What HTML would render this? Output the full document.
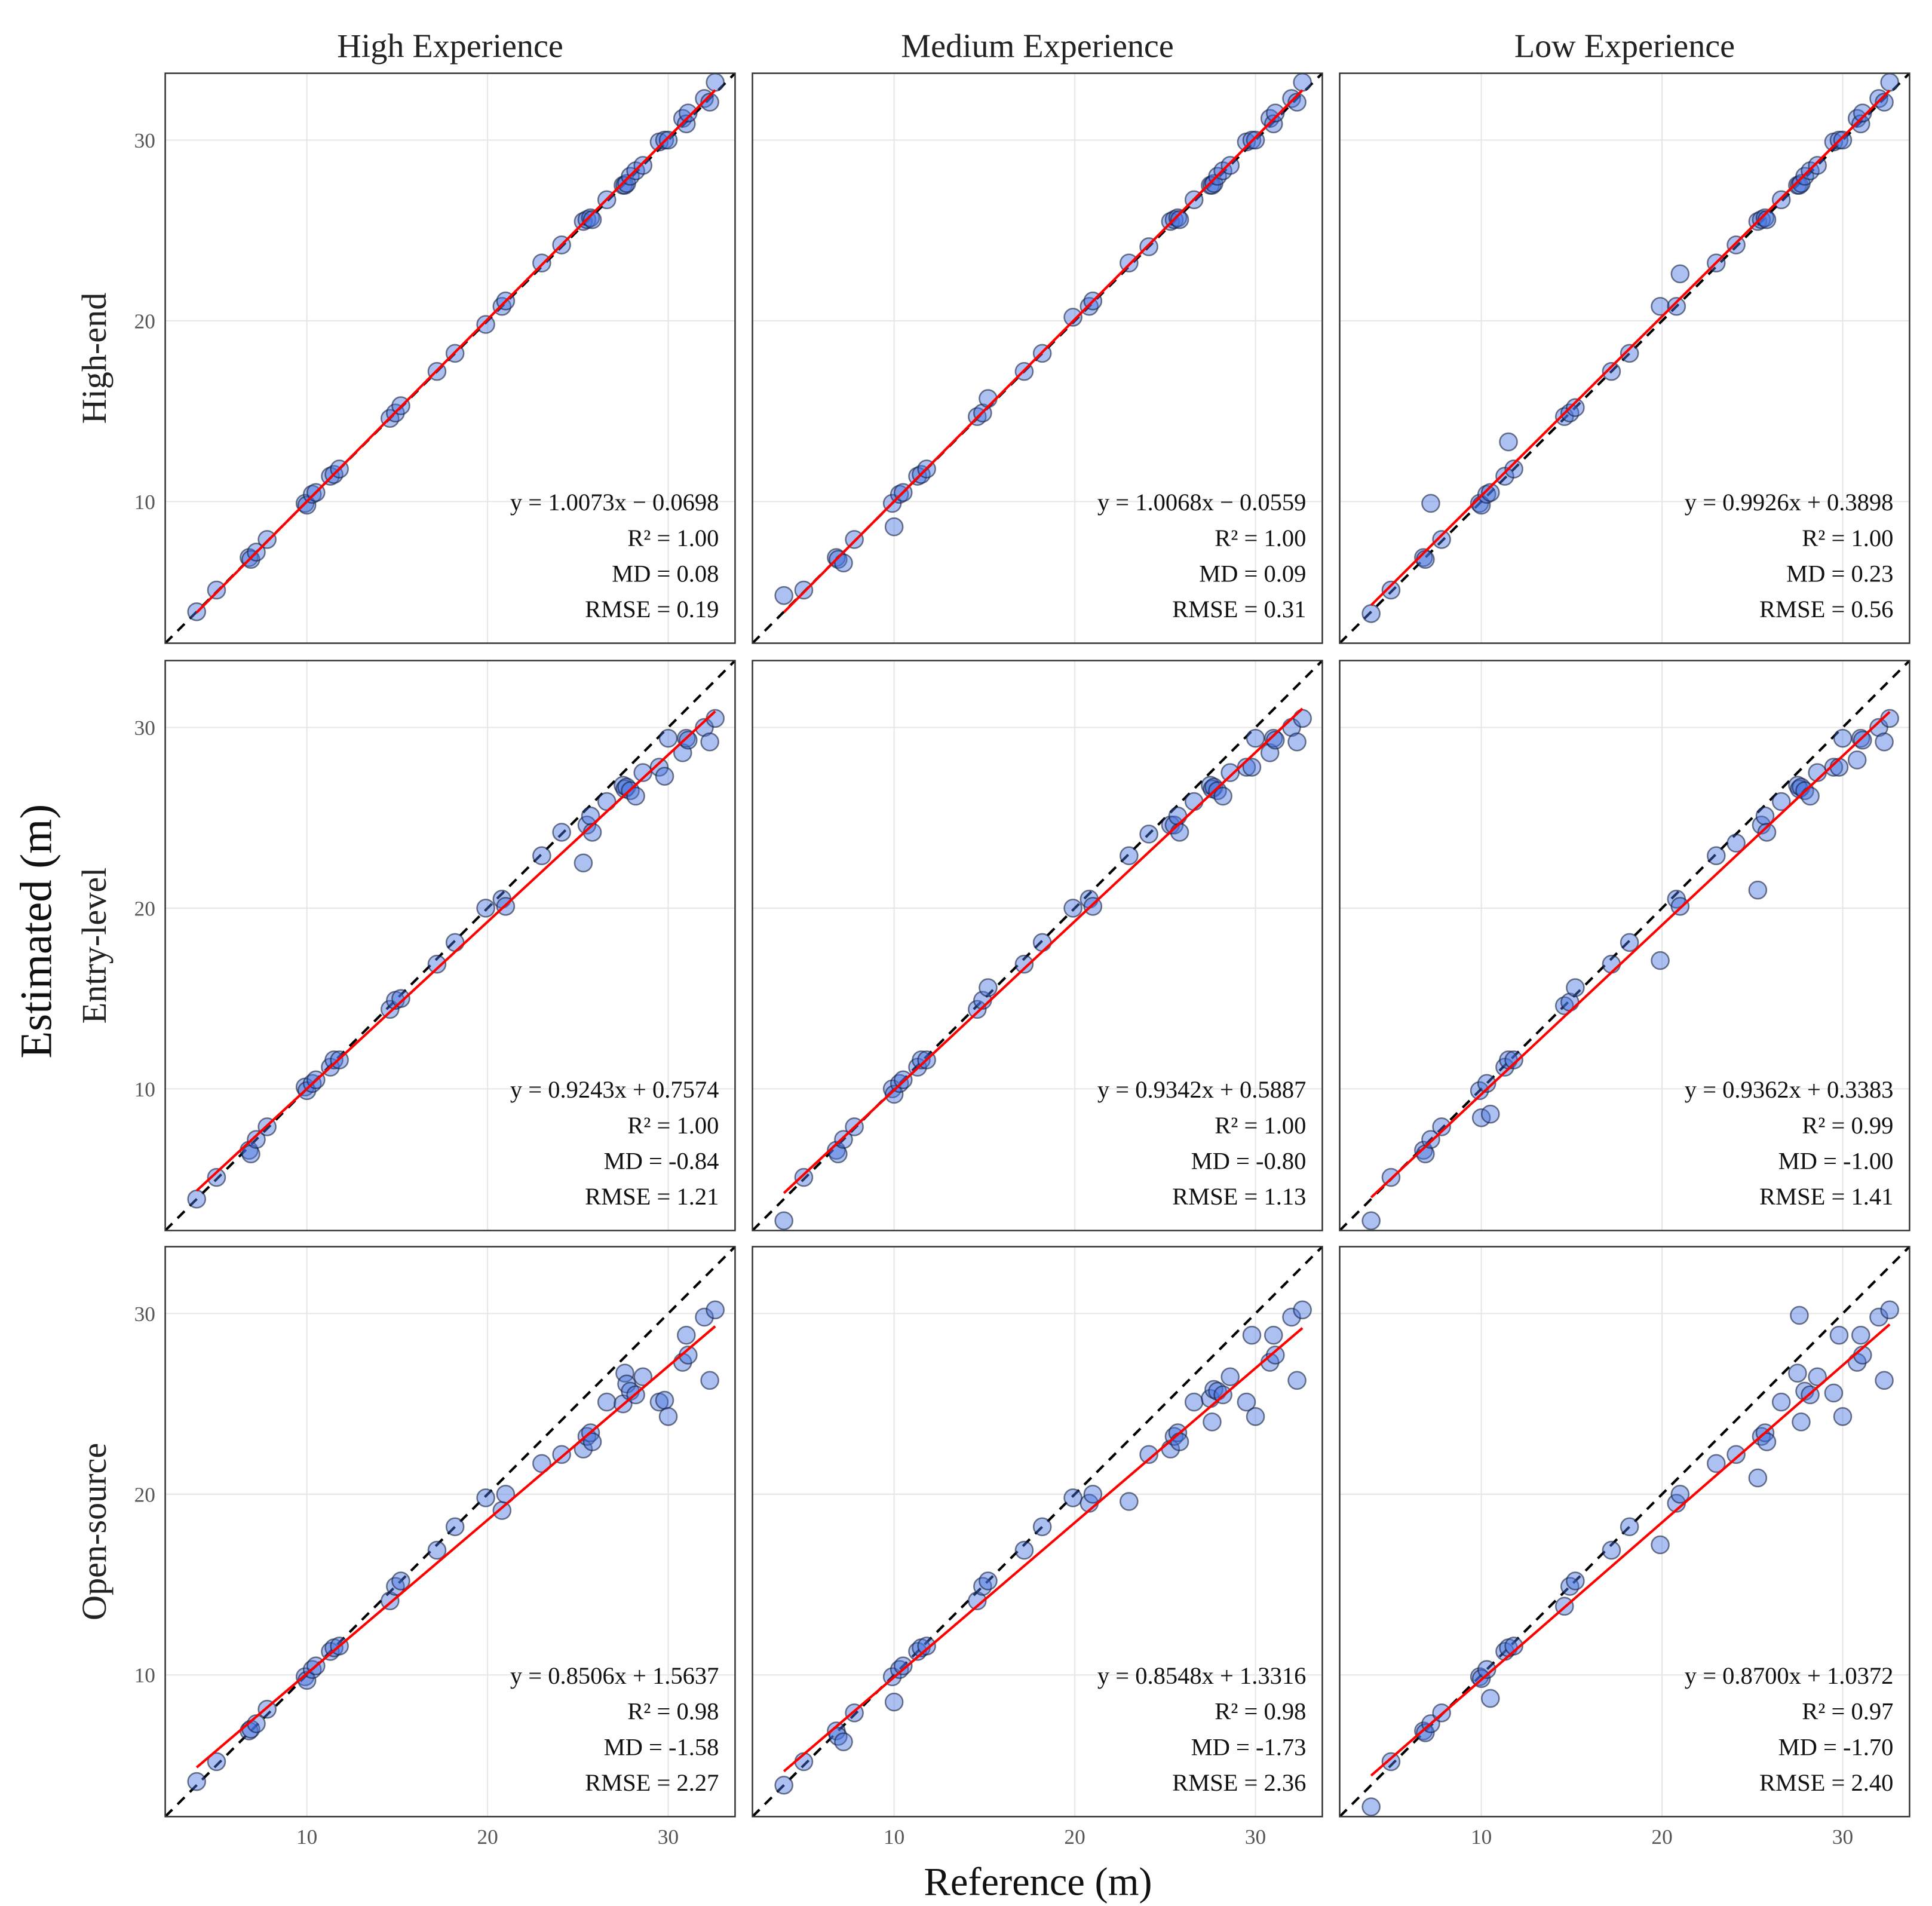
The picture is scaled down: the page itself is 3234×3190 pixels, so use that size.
<!DOCTYPE html>
<html><head><meta charset="utf-8"><style>
html,body{margin:0;padding:0;background:#fff;}
svg{display:block;}
text{font-family:"Liberation Serif",serif;}
</style></head><body>
<svg id="chart" width="3234" height="3190" viewBox="0 0 1556 1535" xmlns="http://www.w3.org/2000/svg">
<rect width="1556" height="1535" fill="#fff"/>
</svg>
<script>
const refX=[3.9,5.0,6.8,6.9,7.2,7.8,9.9,10.0,10.3,10.5,11.3,11.5,11.8,14.6,14.9,15.2,17.2,18.2,19.9,20.8,21.0,23.0,24.1,25.3,25.5,25.7,25.8,26.6,27.5,27.6,27.7,27.9,28.2,28.6,29.5,29.8,30.0,30.8,31.0,31.1,32.0,32.3,32.6];
const est11=[3.9,5.1,6.9,6.8,7.2,7.9,9.9,9.8,10.4,10.5,11.4,11.5,11.8,14.6,14.9,15.3,17.2,18.2,19.8,20.8,21.1,23.2,24.2,25.5,25.6,25.7,25.6,26.7,27.5,27.5,27.6,28.0,28.3,28.6,29.9,30.0,30.0,31.2,30.9,31.5,32.3,32.1,33.2];
const est12=[4.8,5.1,6.9,6.8,6.6,7.9,9.9,8.6,10.4,10.5,11.4,11.5,11.8,14.7,14.9,15.7,17.2,18.2,20.2,20.8,21.1,23.2,24.1,25.5,25.6,25.7,25.6,26.7,27.5,27.5,27.6,28.0,28.3,28.6,29.9,30.0,30.0,31.2,30.9,31.5,32.3,32.1,33.2];
const est13=[3.8,5.1,6.9,6.8,9.9,7.9,9.9,9.8,10.4,10.5,11.4,13.3,11.8,14.7,14.9,15.2,17.2,18.2,20.8,20.8,22.6,23.2,24.2,25.5,25.6,25.7,25.6,26.7,27.5,27.5,27.6,28.0,28.3,28.6,29.9,30.0,30.0,31.2,30.9,31.5,32.3,32.1,33.2];
const est21=[3.9,5.1,6.6,6.4,7.2,7.9,10.1,9.9,10.3,10.5,11.2,11.6,11.6,14.4,14.9,15.0,16.9,18.1,20.0,20.5,20.1,22.9,24.2,22.5,24.6,25.1,24.2,25.9,26.8,26.6,26.7,26.5,26.2,27.5,27.8,27.3,29.4,28.6,29.4,29.3,30.0,29.2,30.5];
const est22=[2.7,5.1,6.6,6.4,7.2,7.9,10.0,9.7,10.3,10.5,11.2,11.6,11.6,14.4,14.9,15.6,16.9,18.1,20.0,20.5,20.1,22.9,24.1,24.6,24.6,25.1,24.2,25.9,26.8,26.6,26.7,26.5,26.2,27.5,27.8,27.8,29.4,28.6,29.4,29.3,30.0,29.2,30.5];
const est23=[2.7,5.1,6.6,6.4,7.2,7.9,9.9,8.4,10.3,8.6,11.2,11.6,11.6,14.6,14.8,15.6,16.9,18.1,17.1,20.5,20.1,22.9,23.6,21.0,24.6,25.1,24.2,25.9,26.8,26.6,26.7,26.5,26.2,27.5,27.8,27.8,29.4,28.2,29.4,29.3,30.0,29.2,30.5];
const est31=[4.1,5.2,6.9,7.0,7.3,8.1,9.9,9.7,10.3,10.5,11.3,11.5,11.6,14.1,14.9,15.2,16.9,18.2,19.8,19.1,20.0,21.7,22.2,22.5,23.2,23.4,22.9,25.1,25.0,26.7,26.1,25.7,25.5,26.5,25.1,25.2,24.3,27.3,28.8,27.7,29.8,26.3,30.2];
const est32=[3.9,5.2,6.9,6.6,6.3,7.9,9.9,8.5,10.3,10.5,11.3,11.5,11.6,14.1,14.9,15.2,16.9,18.2,19.8,19.5,20.0,19.6,22.2,22.5,23.2,23.4,22.9,25.1,25.3,24.0,25.8,25.7,25.5,26.5,25.1,28.8,24.3,27.3,28.8,27.7,29.8,26.3,30.2];
const est33=[2.7,5.2,6.9,6.8,7.3,7.9,9.9,9.8,10.3,8.7,11.3,11.5,11.6,13.8,14.9,15.2,16.9,18.2,17.2,19.5,20.0,21.7,22.2,20.9,23.2,23.4,22.9,25.1,26.7,29.9,24.0,25.7,25.5,26.5,25.6,28.8,24.3,27.3,28.8,27.7,29.8,26.3,30.2];
const estimates=[[est11,est12,est13],[est21,est22,est23],[est31,est32,est33]];
const slopes=[[1.0073,1.0068,0.9926],[0.9243,0.9342,0.9362],[0.8506,0.8548,0.8700]];
const intercepts=[[-0.0698,-0.0559,0.3898],[0.7574,0.5887,0.3383],[1.5637,1.3316,1.0372]];
const r2Labels=[["1.00","1.00","1.00"],["1.00","1.00","0.99"],["0.98","0.98","0.97"]];
const mdLabels=[["0.08","0.09","0.23"],["-0.84","-0.80","-1.00"],["-1.58","-1.73","-1.70"]];
const rmseLabels=[["0.19","0.31","0.56"],["1.21","1.13","1.41"],["2.27","2.36","2.40"]];
const colTitles=["High Experience","Medium Experience","Low Experience"];
const rowTitles=["High-end","Entry-level","Open-source"];
const ticks=[10,20,30];

const NS="http://www.w3.org/2000/svg";
const svg=document.getElementById('chart');
function mk(tag,attrs,parent){const e=document.createElementNS(NS,tag);for(const k in attrs)e.setAttribute(k,attrs[k]);(parent||svg).appendChild(e);return e;}
const panelX=[133,606,1079], panelY=[59,532,1004], PW=459, PH=459;
const dMin=2.16, dMax=33.7;
function sx(c,v){return panelX[c]+(v-dMin)/(dMax-dMin)*PW;}
function sy(r,v){return panelY[r]+PH-(v-dMin)/(dMax-dMin)*PH;}

for(let c=0;c<3;c++){
  const t=mk('text',{x:panelX[c]+PW/2,y:46,'text-anchor':'middle','font-size':27,fill:'#222'});
  
  
  t.textContent=colTitles[c];
}
for(let r=0;r<3;r++){
  const y=panelY[r]+PH/2;
  const t=mk('text',{x:0,y:0,transform:`translate(85,${y}) rotate(-90)`,'text-anchor':'middle','font-size':28,fill:'#222'});
  
  
  t.textContent=rowTitles[r];
}
const yt=mk('text',{x:0,y:0,transform:'translate(41,750) rotate(-90)','text-anchor':'middle','font-size':36,fill:'#111'});


yt.textContent='Estimated (m)';
const xt=mk('text',{x:836,y:1526,'text-anchor':'middle','font-size':32,fill:'#111'});


xt.textContent='Reference (m)';

for(let r=0;r<3;r++)for(let c=0;c<3;c++){
  const g=mk('g',{});
  
  
  const defs=mk('clipPath',{id:`cp${r}${c}`},g);
  mk('rect',{x:panelX[c],y:panelY[r],width:PW,height:PH},defs);
  ticks.forEach(t=>{
    const gl=mk('line',{x1:sx(c,t),x2:sx(c,t),y1:panelY[r],y2:panelY[r]+PH,stroke:'#e6e6e6','stroke-width':1},g);
    
    
    const gh=mk('line',{x1:panelX[c],x2:panelX[c]+PW,y1:sy(r,t),y2:sy(r,t),stroke:'#e6e6e6','stroke-width':1},g);
    
    
  });
  const cg=mk('g',{'clip-path':`url(#cp${r}${c})`},g);
  const diag=mk('line',{x1:sx(c,dMin),y1:sy(r,dMin),x2:sx(c,dMax),y2:sy(r,dMax),stroke:'#000','stroke-width':2,'stroke-dasharray':'8,6'},cg);
  
  
  const est=estimates[r][c];
  refX.forEach((x,i)=>{
    const p=mk('circle',{cx:sx(c,x),cy:sy(r,est[i]),r:7,fill:'rgba(70,115,225,0.45)',stroke:'rgba(20,30,60,0.6)','stroke-width':1.2},cg);
    
    
  });
  const x0=Math.min(...refX), x1=Math.max(...refX);
  const a=slopes[r][c], b=intercepts[r][c];
  const fl=mk('line',{x1:sx(c,x0),y1:sy(r,a*x0+b),x2:sx(c,x1),y2:sy(r,a*x1+b),stroke:'#ff0000','stroke-width':2},cg);
  
  
  const bd=mk('rect',{x:panelX[c],y:panelY[r],width:PW,height:PH,fill:'none',stroke:'#333','stroke-width':1.2},g);
  
  
  const sign=b<0?'\u2212':'+';
  const lines=[`y = ${a.toFixed(4)}x ${sign} ${Math.abs(b).toFixed(4)}`,`R\u00b2 = ${r2Labels[r][c]}`,`MD = ${mdLabels[r][c]}`,`RMSE = ${rmseLabels[r][c]}`];
  const names=['equation-label','r2-label','md-label','rmse-label'];
  lines.forEach((s,i)=>{
    const t=mk('text',{x:panelX[c]+PW-13,y:panelY[r]+352+i*28.7,'text-anchor':'end','font-size':19.5,fill:'#111'},g);
    
    
    t.textContent=s;
  });
  if(c===0){ticks.forEach(t=>{
    const tl=mk('text',{x:panelX[c]-8,y:sy(r,t)+6,'text-anchor':'end','font-size':17,fill:'#555'},g);
    
    
    tl.textContent=t;
  });}
  if(r===2){ticks.forEach(t=>{
    const tl=mk('text',{x:sx(c,t),y:panelY[r]+PH+22,'text-anchor':'middle','font-size':17,fill:'#555'},g);
    
    
    tl.textContent=t;
  });}
}
</script>
</body></html>
